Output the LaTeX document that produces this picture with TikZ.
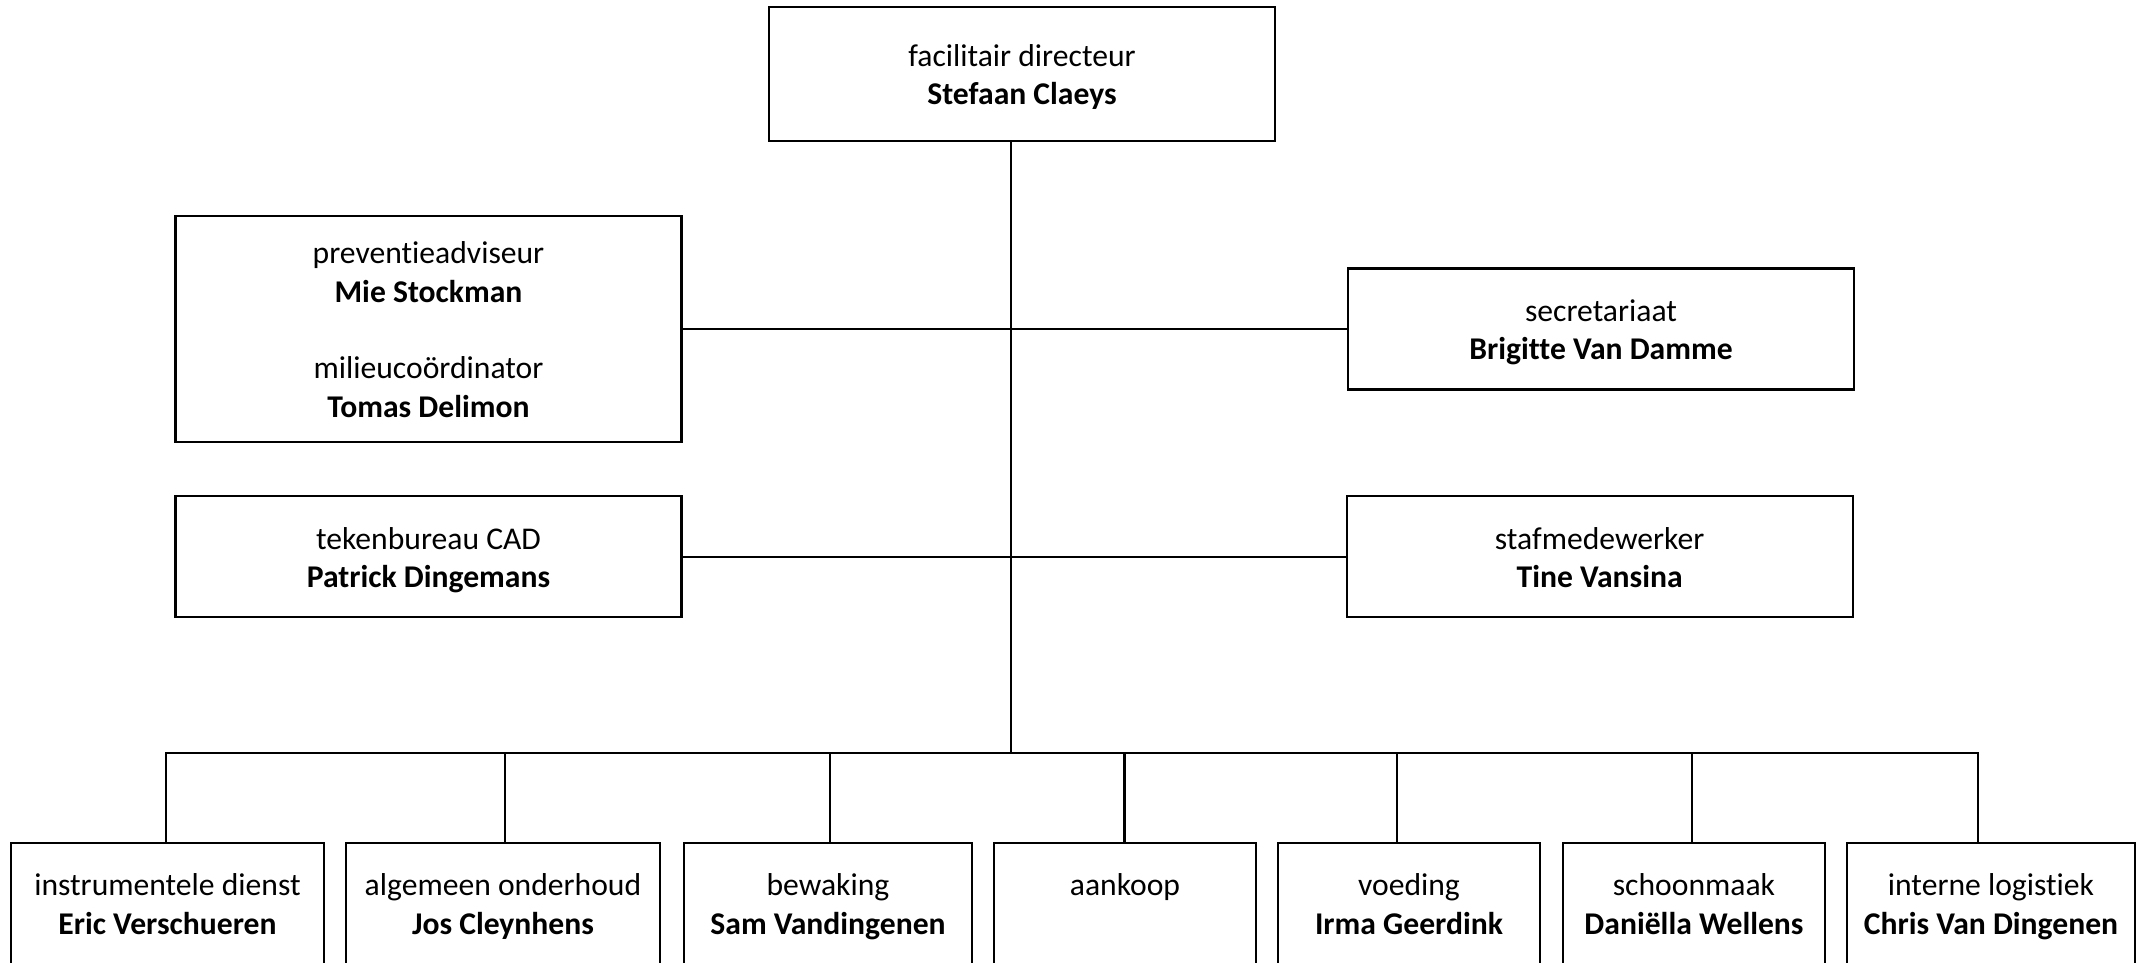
\documentclass[tikz,border=0pt]{standalone}
\usepackage{fontspec}
\setmainfont{Carlito}[RawFeature={-liga}]
\usetikzlibrary{positioning}

\newcommand{\tallstrut}{\rule[-2.15pt]{0pt}{10.9pt}}
\newcommand{\duo}[2]{\tallstrut#1\\\tallstrut\textbf{#2}}

\begin{document}
\begin{tikzpicture}[x=0.1mm,y=-0.1mm,line width=0.6pt,
    unit/.style={draw,rectangle,align=center,inner sep=0pt,minimum height=12.1mm,
      font=\fontsize{9}{10.9}\selectfont},
    staff/.style={unit,minimum width=50.6mm}]
  \useasboundingbox (0,0) rectangle (2150,962);
  \clip (0,0) rectangle (2150,962);

  \node[staff,minimum height=13.4mm] (dir) at (1022,74) {\duo{facilitair directeur}{Stefaan Claeys}};

  \node[staff,minimum height=22.65mm] (prev) at (428.5,329) {\duo{preventieadviseur}{Mie Stockman}\\[10.9pt]\duo{milieucoördinator}{Tomas Delimon}};
  \node[staff] (secr) at (1601,329) {\duo{secretariaat}{Brigitte Van Damme}};
  \node[staff] (cad) [below=5.2mm of prev] {\duo{tekenbureau CAD}{Patrick Dingemans}};
  \node[staff] (staf) [right=66.3mm of cad] {\duo{stafmedewerker}{Tine Vansina}};

  \node[unit,minimum width=31.3mm] (inst) at (167.5,903.5) {\duo{instrumentele dienst}{Eric Verschueren}};
  \node[unit,minimum width=31.45mm] (alg) at (503,903.5) {\duo{algemeen onderhoud}{Jos Cleynhens}};
  \node[unit,minimum width=28.75mm] (bew) at (828,903.5) {\duo{bewaking}{Sam Vandingenen}};
  \node[unit,minimum width=26.15mm] (aank) at (1125,903.5) {\duo{aankoop}{}};
  \node[unit,minimum width=26.2mm] (voe) at (1409,903.5) {\duo{voeding}{Irma Geerdink}};
  \node[unit,minimum width=26.2mm] (scho) at (1694,903.5) {\duo{schoonmaak}{Daniëlla Wellens}};
  \node[unit,minimum width=28.8mm] (logi) at (1991,903.5) {\duo{interne logistiek}{Chris Van Dingenen}};

  \coordinate (split) at (1011,753);

  \draw (dir.south -| split) -- (split);
  \path (prev) edge (secr)
        (cad) edge (staf);

  % drops to the bus
  \foreach \n/\x in {inst/166,alg/505,bew/830,aank/1124.5,voe/1396.7,scho/1691.7,logi/1978}
    \draw (\n.north -| \x,0) |- (split);
\end{tikzpicture}
\end{document}
